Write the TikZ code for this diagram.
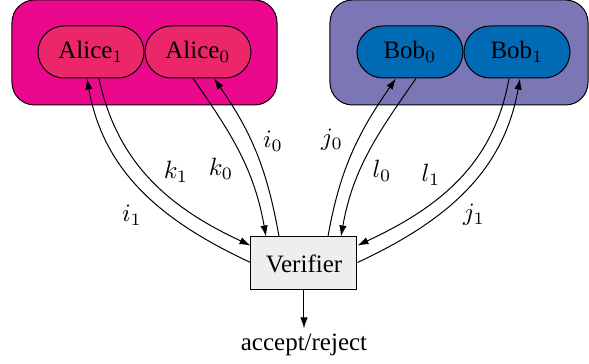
\documentclass[tikz,border=0pt]{standalone}
\usepackage{amsmath, amssymb}
\usepackage{fontspec}
\setmainfont{Liberation Serif}
\usepackage{tikz}
\usetikzlibrary{positioning}
\usetikzlibrary{arrows.meta}
\usepackage{xcolor}
\definecolor{aliceout}{RGB}{236,8,140}
\definecolor{alicein}{RGB}{235,38,106}
\definecolor{bobout}{RGB}{123,118,181}
\definecolor{bobin}{RGB}{0,106,180}
\definecolor{verigray}{RGB}{238,238,238}

\begin{document}
\begin{tikzpicture}[x=0.4pt, y=-0.4pt, >={Latex[length=4.4pt,width=3pt]}, every node/.style={font=\normalsize}]
\tikzstyle{party}=[draw=black, minimum height=42pt, rounded corners=9pt]
\tikzstyle{prover}=[draw=black, minimum width=42.4pt, minimum height=20.8pt, rounded corners=10.4pt, inner sep=0pt]
\tikzstyle{msg}=[inner sep=0pt]
\useasboundingbox (0,0) rectangle (589,364);
% the two provers
\node[party, fill=aliceout, minimum width=106pt] (alice) at (144.5,52.5) {};
\node[party, fill=bobout, minimum width=103.2pt] (bob) at (459,52.5) {};
\node[prover, fill=alicein] (alice1) at (91,52) {Alice\(_1\)};
\node[prover, fill=alicein, right=0pt of alice1] (alice0) {Alice\(_0\)};
\node[prover, fill=bobin] (bob0) at (410,52) {Bob\(_0\)};
\node[prover, fill=bobin, right=0pt of bob0] (bob1) {Bob\(_1\)};
% verifier
\node[draw=black, fill=verigray, minimum width=42.4pt, minimum height=21.2pt] (verifier) at (304,263.5) {Verifier};
\node[inner sep=2pt, below=15.2pt of verifier] (result) {accept/reject};
\draw[->] (verifier) -- (result);
% questions and answers
\draw[->] ([yshift=0.4pt]verifier.west) to[out=155, in=-80] ([xshift=-1.6pt]alice1.south);
\draw[->] ([xshift=3.2pt]alice1.south) to[out=-78, in=155] ([yshift=7.2pt]verifier.west);
\draw[->] ([xshift=-2pt]alice0.south) to[out=-55, in=100] ([xshift=-15.2pt]verifier.north);
\draw[->] ([xshift=-10pt]verifier.north) to[out=100, in=-55] ([xshift=6.4pt]alice0.south);
\draw[->] ([xshift=9.6pt]verifier.north) to[out=80, in=-125] ([xshift=-5.6pt]bob0.south);
\draw[->] ([xshift=2.4pt]bob0.south) to[out=-125, in=80] ([xshift=14.8pt]verifier.north);
\draw[->] ([xshift=-3.2pt]bob1.south) to[out=-100, in=25] ([yshift=7.2pt]verifier.east);
\draw[->] ([yshift=0.4pt]verifier.east) to[out=25, in=-100] ([xshift=1.2pt]bob1.south);
% labels
\node[msg] (i1) at (132,215) {\(i_1\)};
\node[msg] (k1) at (176,172) {\(k_1\)};
\node[msg] (k0) at (221,169) {\(k_0\)};
\node[msg] (i0) at (273,141) {\(i_0\)};
\node[msg] (j0) at (332,140) {\(j_0\)};
\node[msg] (l0) at (382,171) {\(l_0\)};
\node[msg] (l1) at (431,175) {\(l_1\)};
\node[msg] (j1) at (474,215) {\(j_1\)};
\end{tikzpicture}
\end{document}
